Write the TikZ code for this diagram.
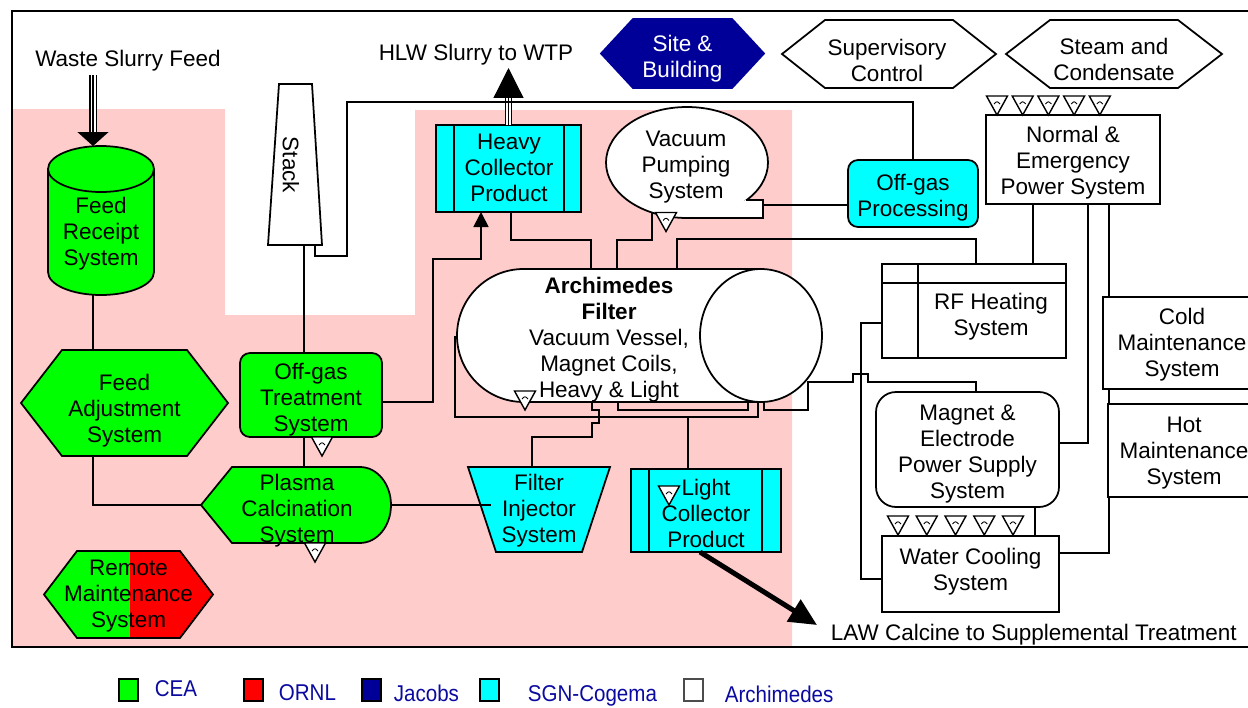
\documentclass[tikz,border=0pt]{standalone}
\usepackage{fontspec}
\setmainfont{Liberation Sans}
\newfontfamily\legendfont[FakeStretch=0.9]{Liberation Sans}
\usepackage{tikz}
\usetikzlibrary{arrows.meta,positioning,calc,shapes.geometric}
\definecolor{ceagreen}{RGB}{0,255,0}
\definecolor{ornlred}{RGB}{255,0,0}
\definecolor{jacobsblue}{RGB}{0,0,153}
\definecolor{sgncyan}{RGB}{0,255,255}
\definecolor{zonepink}{RGB}{255,204,204}
\definecolor{legblue}{RGB}{10,10,160}
\newcommand\sysfont{\fontsize{12.8}{14.8}\selectfont}
% hexagon drawn round an empty node: name, point depth, options
\newcommand\hexshape[3]{%
  \draw[#3] (#1.west) -- ($(#1.north west)+(#2,0)$) -- ($(#1.north east)+(-#2,0)$)
    -- (#1.east) -- ($(#1.south east)+(-#2,0)$) -- ($(#1.south west)+(#2,0)$) -- cycle;}

\begin{document}
\begin{tikzpicture}[x=0.02cm, y=-0.02cm, line width=1pt,
  bb/.style 2 args={minimum width=#1*0.02cm, minimum height=#2*0.02cm,
    inner sep=0pt, outer sep=0pt},
  lbl/.style={align=center, font=\sysfont, inner sep=0pt},
  txt/.style={lbl, yshift=-0.06cm},
  sysbox/.style={draw, rectangle},
  sysround/.style={draw, rounded corners=0.2cm},
  triple/.style={double, double distance=0.1cm, line width=0.025cm},
  midline/.style={line width=0.025cm},
  leg/.style={draw, line width=1.2pt, bb={19}{22}},
  legtxt/.style={font=\legendfont\fontsize{13}{15}\selectfont, text=legblue,
    inner sep=0pt, anchor=base west},
  valve/.pic={
    \draw[fill=white, line width=0.8pt] (-10.5,0) -- (10.5,0) -- (0,19) -- cycle;
    \draw[line width=0.5pt] (-3,8) .. controls (0,5) .. (3,8);}
]
  \useasboundingbox (0,0) rectangle (1248,707);

  % zone and frame
  \fill[zonepink] (12,109) -- (225,109) -- (225,315) -- (415,315) -- (415,110)
    -- (792,110) -- (792,647) -- (12,647) -- cycle;
  \draw[line width=1.2pt] (1262,11) -- (12,11) -- (12,647) -- (1262,647);

  % free texts
  \node[txt] (wsf) at (128,58) {Waste Slurry Feed};
  \node[txt] (hlw) at (476,52) {HLW Slurry to WTP};
  \node[txt, anchor=west] (law) at (830,632) {LAW Calcine to Supplemental Treatment};

  % CEA systems
  \node[bb={106}{149}] (feedrec) at (101,220.5) {};
  \draw[fill=ceagreen] ($(feedrec.north west)+(0,23)$) -- ($(feedrec.south west)+(0,-23)$)
    arc[start angle=180, end angle=360, x radius=1.06cm, y radius=0.46cm]
    -- ($(feedrec.north east)+(0,23)$)
    arc[start angle=0, end angle=180, x radius=1.06cm, y radius=0.46cm] -- cycle;
  \draw ($(feedrec.north west)+(0,23)$)
    arc[start angle=180, end angle=360, x radius=1.06cm, y radius=0.46cm];
  \node[txt] (feedrec-t) at (101,231) {Feed\\Receipt\\System};

  \node[bb={207}{106}] (fadj) at (124.5,403) {};
  \hexshape{fadj}{41}{fill=ceagreen}
  \node[txt] (fadj-t) at (124.5,408) {Feed\\Adjustment\\System};

  \node[sysround, fill=ceagreen, bb={142}{84}] (otreat) at (311,395) {};
  \node[txt] (otreat-t) at (311,396.5) {Off-gas\\Treatment\\System};
  \pic at ($(otreat.south)+(11,0)$) {valve};

  \node[bb={190}{76}] (plasma) at (296,505) {};
  \draw[fill=ceagreen] (plasma.west) -- ($(plasma.north west)+(31,0)$)
    -- ($(plasma.north east)+(-31,0)$)
    arc[start angle=90, end angle=-90, x radius=0.62cm, y radius=0.76cm]
    -- ($(plasma.south west)+(31,0)$) -- cycle;
  \node[txt] (plasma-t) at (297,507.5) {Plasma\\Calcination\\System};
  \pic at ($(plasma.south)+(19,0)$) {valve};

  \node[bb={169}{87}] (rem) at (128.5,594.5) {};
  \hexshape{rem}{33}{fill=ceagreen,
    path picture={\fill[ornlred] ($(rem.north)+(1.5,-5)$) rectangle ($(rem.south east)+(5,5)$);}}
  \node[txt] (rem-t) at (128.5,593.5) {Remote\\Maintenance\\System};

  % stack
  \node[bb={54}{161}] (stack) at (295,164.5) {};
  \draw[fill=white] ($(stack.north west)+(11,0)$) -- ($(stack.north east)+(-10,0)$)
    -- (stack.south east) -- (stack.south west) -- cycle;
  \node[lbl, rotate=-90] (stack-t) at (291,165) {Stack};

  % SGN-Cogema systems
  \node[sysbox, fill=sgncyan, bb={145}{87}] (heavy) at (508.5,168.5) {};
  \draw ($(heavy.north west)+(18,0)$) -- ($(heavy.south west)+(18,0)$)
        ($(heavy.north east)+(-17,0)$) -- ($(heavy.south east)+(-17,0)$);
  \node[txt] (heavy-t) at (509,165) {Heavy\\Collector\\Product};

  \node[bb={142}{85}] (inj) at (539,509.5) {};
  \draw[fill=sgncyan] (inj.north west) -- (inj.north east) -- ($(inj.south east)+(-28,0)$)
    -- ($(inj.south west)+(28,0)$) -- cycle;
  \node[txt] (inj-t) at (539,508) {Filter\\Injector\\System};

  \node[sysbox, fill=sgncyan, bb={150}{83}] (light) at (706,510.5) {};
  \draw ($(light.north west)+(18,0)$) -- ($(light.south west)+(18,0)$)
        ($(light.north east)+(-19,0)$) -- ($(light.south east)+(-19,0)$);
  \node[txt] (light-t) at (706,510) {Light\\Collector\\Product};
  \pic at ($(light.north west)+(38,17)$) {valve};

  \node[sysround, fill=sgncyan, bb={130}{67}] (opro) at (913,193.5) {};
  \node[txt] (opro-t) at (913,194.5) {Off-gas\\Processing};

  % Archimedes systems
  \node[ellipse, draw, fill=white, bb={162}{111}] (vac) at (687,162.5) {};
  \fill[white] ($(vac)+(59,37.5)$) -- ($(vac)+(76,37.5)$) -- ($(vac)+(76,55.5)$) -- (vac.south) -- cycle;
  \draw ($(vac)+(59,37.5)$) -- ($(vac)+(76,37.5)$) -- ($(vac)+(76,55.5)$) -- (vac.south);
  \node[txt] (vac-t) at (686,164.5) {Vacuum\\Pumping\\System};
  \pic at ($(vac)+(-21,50)$) {valve};

  \node[bb={365}{133}] (filt) at (639.5,335.5) {};
  \draw[fill=white] ($(filt.north west)+(66.5,0)$) arc[start angle=90, end angle=270, radius=1.33cm]
    -- ($(filt.south east)+(-61,0)$) -- ($(filt.north east)+(-61,0)$) -- cycle;
  \draw[fill=white] ($(filt.east)+(-61,0)$) ellipse[x radius=1.22cm, y radius=1.33cm];
  \node[txt] (filt-t) at (609,337) {\textbf{Archimedes}\\\textbf{Filter}\\Vacuum Vessel,\\Magnet Coils,\\Heavy \& Light};
  \pic at ($(filt.south west)+(68,-11)$) {valve};

  \node[bb={163}{69}] (site) at (682.5,53.5) {};
  \hexshape{site}{32}{draw=jacobsblue, fill=jacobsblue}
  \node[txt, text=white] (site-t) at (682.5,56) {Site \&\\Building};

  \node[bb={214}{68}] (sup) at (889,54) {};
  \hexshape{sup}{43}{fill=white}
  \node[txt] (sup-t) at (887,57) {Supervisory\\Control};

  \node[bb={216}{68}] (steam) at (1114,54) {};
  \hexshape{steam}{44}{fill=white}
  \node[txt] (steam-t) at (1114,56) {Steam and\\Condensate};

  \node[sysbox, bb={174}{89}] (npow) at (1073,159.5) {};
  \node[txt] (npow-t) at (1073,160) {Normal \&\\Emergency\\Power System};
  \foreach \i in {0,...,4}
    \pic at ($(npow.north west)+(11+25.7*\i,-19)$) {valve};

  \node[sysbox, bb={184}{94}] (rf) at (974,311) {};
  \draw ($(rf.north west)+(0,19)$) -- ($(rf.north east)+(0,19)$)
        ($(rf.north west)+(36,0)$) -- ($(rf.south west)+(36,0)$);
  \node[txt] (rf-t) at (991,314) {RF Heating\\System};

  \node[sysbox, bb={158}{92}] (cold) at (1182,343) {};
  \node[txt] (cold-t) at (1182,342) {Cold\\Maintenance\\System};
  \node[sysbox, bb={154}{93}] (hot) at (1185,450.5) {};
  \node[txt] (hot-t) at (1184,450) {Hot\\Maintenance\\System};

  \node[draw, rounded corners=0.4cm, bb={183}{115}] (mag) at (967.5,449.5) {};
  \node[txt] (mag-t) at (967.5,451.5) {Magnet \&\\Electrode\\Power Supply\\System};
  \foreach \i in {0,...,4}
    \pic at ($(mag.south west)+(22+28.75*\i,9)$) {valve};

  \node[sysbox, bb={177}{76}] (water) at (970.5,574) {};
  \node[txt] (water-t) at (970.5,568.5) {Water Cooling\\System};

  % feed and product lines
  \coordinate (feedline) at (93,75);
  \draw[triple] (feedline) -- ++(0,58);
  \draw[midline, -{Triangle[width=0.62cm,length=0.28cm]}] (feedline) -- (feedline |- feedrec.north);
  \draw[triple] (heavy.north) -- ++(0,-28);
  \draw[midline, -{Triangle[width=0.6cm,length=0.6cm]}] (heavy.north) -- ++(0,-57);
  \draw[line width=0.1cm, -{Triangle[width=0.5cm,length=0.55cm]}] ($(light.south)+(-6,0)$) -- ($(law.west)+(-13,-10)$);

  % connections
  \draw (feedrec.south -| feedline) -- (fadj.north -| feedline);
  \draw (fadj.south -| feedline) |- (plasma.west);
  \draw ($(stack.south)+(9,0)$) -- ($(otreat.north)+(-7,0)$);
  \draw ($(otreat.south)+(-7,0)$) -- ($(plasma.north)+(8,0)$);
  \draw ($(stack.south)+(20,0)$) -- ++(0,11) -- ++(32,0) |- ($(opro.north)+(0,-58)$) -- (opro.north);
  \draw[-{Triangle[width=0.3cm,length=0.3cm]}] ($(otreat.east)+(0,7)$) -- ++(51,0)
    |- ($(heavy.south)+(-27.5,47)$) -- ($(heavy.south)+(-27.5,0)$);
  \draw (plasma.east) -- ++(100,0);
  \draw ($(vac)+(76,42.5)$) -- ($(opro.west)+(0,11.5)$);

  \draw ($(heavy.south)+(2.5,0)$) -- ++(0,28) -| ($(filt.north)+(-48.5,0)$);
  \draw ($(vac)+(-35,50)$) -- ++(0,27.5) -| ($(filt.north)+(-22.5,0)$);
  \draw ($(filt.north)+(37.5,0)$) -- ++(0,-30) -| ($(rf.north)+(2,0)$);
  \draw ($(filt.west)+(-2,0)$) |- ($(filt.south east)+(-64,15)$) -- ($(filt.south east)+(-64,0)$);
  \draw ($(light.north)+(-18,0)$) -- ++(0,-51.5);
  \draw ($(filt.south)+(-21.5,0)$) -- ++(0,8) -| ($(filt.south east)+(-74,0)$);
  \draw ($(filt.south east)+(-58,0)$) -- ++(0,8) -- ++(44,0) |- ($(rf.south west)+(-29,24)$)
    -- ++(0,-8) -- ++(15,0) -- ++(0,8) -| ($(mag.north)+(8.5,0)$);
  \draw ($(filt.south)+(-47.5,0)$) -- ++(0,8) -- ++(7,0) -- ++(0,13) -- ++(-7,0)
    |- ($(inj.north)+(-7,-30)$) -- ($(inj.north)+(-7,0)$);

  \draw ($(npow.south)+(-40,0)$) coordinate (pa) -- (pa |- rf.north);
  \draw ($(npow.south)+(15,0)$) |- ($(mag.east)+(0,-6.5)$);
  \draw ($(npow.south)+(36,0)$) coordinate (pb) -- (pb |- cold.north);
  \draw ($(cold.south west)+(6,0)$) -- ($(hot.north west)+(1,0)$);
  \draw ($(hot.south west)+(1,0)$) |- ($(water.east)+(0,-21)$);
  \draw ($(mag.south)+(67.5,0)$) coordinate (pc) -- (pc |- water.north);
  \draw ($(rf.west)+(0,12)$) -- ++(-21,0) |- ($(water.west)+(0,5)$);

  % legend
  \node[leg, fill=ceagreen] (kcea) at (128.5,690) {};
  \node[legtxt] (kcea-t) at (154,696) {CEA};
  \node[leg, fill=ornlred] (kornl) at (253.5,690) {};
  \node[legtxt] (kornl-t) at (278,700) {ORNL};
  \node[leg, fill=jacobsblue] (kjac) at (371.5,690) {};
  \node[legtxt] (kjac-t) at (393,701) {Jacobs};
  \node[leg, fill=sgncyan] (ksgn) at (489.5,690) {};
  \node[legtxt] (ksgn-t) at (527,701) {SGN-Cogema};
  \node[leg, fill=white, draw=black!70] (karc) at (693.5,690) {};
  \node[legtxt] (karc-t) at (724,702) {Archimedes};
\end{tikzpicture}
\end{document}
